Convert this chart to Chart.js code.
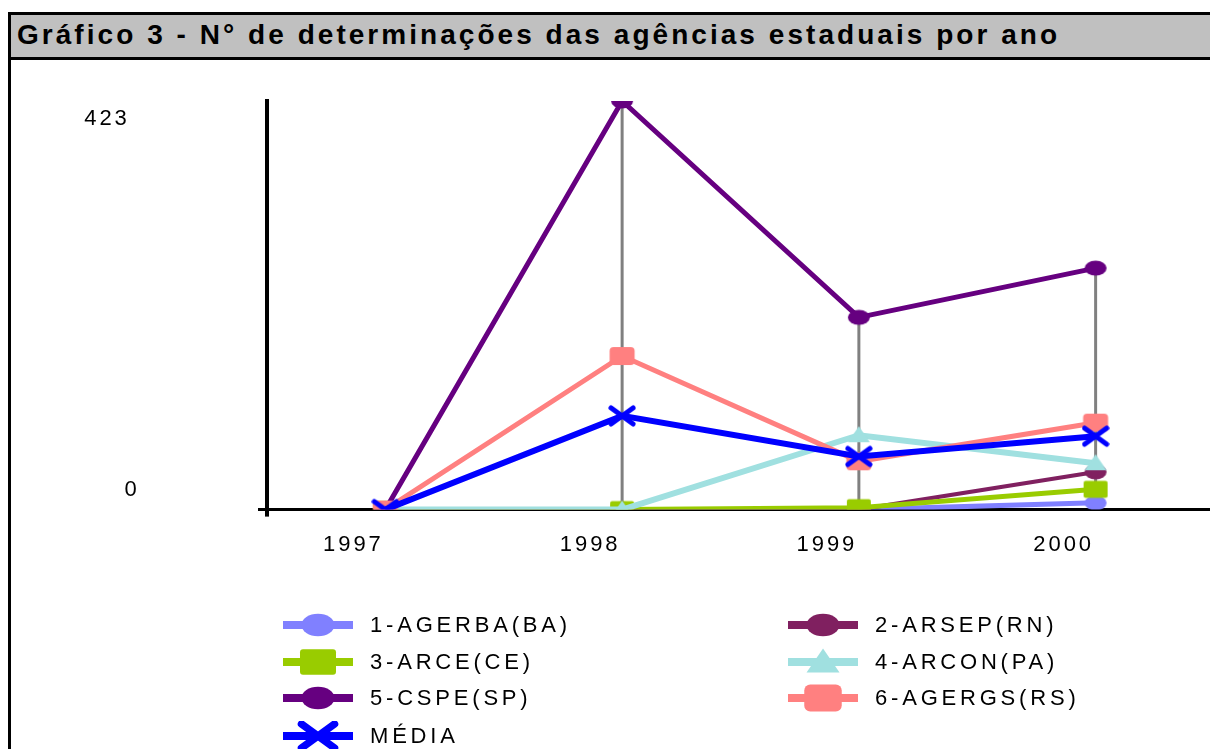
<!DOCTYPE html>
<html lang="pt">
<head>
<meta charset="UTF-8">
<title>Gráfico 3 - N° de determinações das agências estaduais por ano</title>
<style>
    body { margin: 0; width: 1210px; height: 749px; overflow: hidden; background: #fff; position: relative; font-family: "Liberation Sans", Arial, sans-serif; color: #000; }
    .titlebar { position: absolute; left: 8px; top: 12px; width: 1210px; height: 42px; background: #c0c0c0; border: 3px solid #000; overflow: hidden; }
    .titlebar h1 { margin: 0; padding-left: 6px; font-size: 28px; font-weight: bold; letter-spacing: 3px; line-height: 40px; white-space: nowrap; display: inline-block; }
    .leftline { position: absolute; left: 8px; top: 58px; width: 3px; height: 700px; background: #000; }
    #box { position: absolute; left: 0; top: 0; width: 1230px; height: 749px; }
    .legend-item { position: absolute; display: flex; align-items: center; height: 30px; font-size: 22px; letter-spacing: 3.8px; white-space: nowrap; }
    .legend-item canvas { margin-right: 17px; }
</style>
</head>
<body>
    <div class="titlebar"><h1 id="title">Gráfico 3 - N° de determinações das agências estaduais por ano</h1></div>
    <div class="leftline"></div>
    <div id="box"><canvas id="chart"></canvas></div>
    <div id="legend"></div>

    <script src="https://cdn.jsdelivr.net/npm/chart.js"></script>
    <script>
        const years = ['1997', '1998', '1999', '2000'];
        const seriesNames = ['1-AGERBA(BA)', '2-ARSEP(RN)', '3-ARCE(CE)', '4-ARCON(PA)', '5-CSPE(SP)', '6-AGERGS(RS)', 'MÉDIA'];
        const agerba = [0, 0, 0, 7];
        const arsep = [0, 0, 0, 39];
        const arce = [0, 0, 2, 21];
        const arcon = [0, 0, 77, 48];
        const cspe = [0, 423, 199, 250];
        const agergs = [0, 159, 50, 90];
        const media = [0, 97, 55, 76];
        const yTicks = [0, 423];

        const seriesValues = [agerba, arsep, arce, arcon, cspe, agergs, media];
        const colors = ['#8080ff', '#802060', '#99cc00', '#a0e0e0', '#660080', '#ff8080', '#0000ff'];
        const shapes = ['ellipse', 'ellipse', 'square', 'triangle', 'ellipse', 'rounded', 'cross'];
        const widths = [5, 4, 5, 6, 5, 5, 6];

        // stretch the title's letter spacing to the width it has in the sheet
        const title = document.getElementById('title');
        title.style.letterSpacing = '0px';
        const natural = title.getBoundingClientRect().width - 6;
        title.style.letterSpacing = ((1040 - natural) / 61).toFixed(2) + 'px';

        // marker pictures, used by the chart points and the legend
        function makeMarker(shape, color, s) {
            const c = document.createElement('canvas');
            c.width = Math.round(28 * s);
            c.height = Math.round(24 * s);
            const ctx = c.getContext('2d');
            const cx = c.width / 2, cy = c.height / 2;
            ctx.fillStyle = color;
            ctx.strokeStyle = color;
            if (shape === 'ellipse') {
                ctx.beginPath();
                ctx.ellipse(cx, cy, 11 * s, 7.5 * s, 0, 0, Math.PI * 2);
                ctx.fill();
            } else if (shape === 'square') {
                ctx.beginPath();
                ctx.roundRect(cx - 12 * s, cy - 8.5 * s, 24 * s, 17 * s, 2 * s);
                ctx.fill();
            } else if (shape === 'rounded') {
                ctx.beginPath();
                ctx.roundRect(cx - 12.5 * s, cy - 9 * s, 25 * s, 18 * s, 4 * s);
                ctx.fill();
            } else if (shape === 'triangle') {
                ctx.beginPath();
                ctx.moveTo(cx, cy - 9 * s);
                ctx.lineTo(cx + 11 * s, cy + 7 * s);
                ctx.lineTo(cx - 11 * s, cy + 7 * s);
                ctx.closePath();
                ctx.fill();
            } else {
                ctx.lineWidth = 5 * s;
                ctx.lineCap = 'round';
                ctx.beginPath();
                ctx.moveTo(cx - 11 * s, cy - 8 * s);
                ctx.lineTo(cx + 11 * s, cy + 8 * s);
                ctx.moveTo(cx + 11 * s, cy - 8 * s);
                ctx.lineTo(cx - 11 * s, cy + 8 * s);
                ctx.stroke();
            }
            return c;
        }

        const datasets = seriesNames.map((name, i) => ({
            label: name,
            data: seriesValues[i],
            borderColor: colors[i],
            backgroundColor: colors[i],
            borderWidth: widths[i],
            pointStyle: makeMarker(shapes[i], colors[i], 1),
            pointRadius: 10,
            tension: 0,
            order: seriesNames.length - 1 - i
        }));

        // grey high-low lines per year, over the six agencies
        const dropLines = {
            id: 'dropLines',
            beforeDatasetsDraw(chart) {
                const ctx = chart.ctx, x = chart.scales.x, y = chart.scales.y;
                ctx.save();
                ctx.strokeStyle = '#808080';
                ctx.lineWidth = 3;
                years.forEach((yr, j) => {
                    const vals = seriesValues.slice(0, 6).map(s => s[j]);
                    const hi = Math.max(...vals), lo = Math.min(...vals);
                    if (hi === lo) return;
                    const px = x.getPixelForValue(j);
                    ctx.beginPath();
                    ctx.moveTo(px, y.getPixelForValue(hi));
                    ctx.lineTo(px, y.getPixelForValue(lo));
                    ctx.stroke();
                });
                ctx.restore();
            }
        };

        // y labels sit off their ticks like in the original sheet
        const yLabelShift = [[132, -20], [107, 18]];
        const yLabels = {
            id: 'yLabels',
            afterDraw(chart) {
                const ctx = chart.ctx, y = chart.scales.y;
                ctx.save();
                ctx.font = '22px "Liberation Sans", Arial, sans-serif';
                ctx.letterSpacing = '3px';
                ctx.fillStyle = '#000';
                ctx.textAlign = 'center';
                ctx.textBaseline = 'middle';
                yTicks.forEach((v, i) => {
                    ctx.fillText(String(v), yLabelShift[i][0], y.getPixelForValue(v) + yLabelShift[i][1]);
                });
                // the value axis runs a little past the category axis
                ctx.fillStyle = '#000';
                ctx.fillRect(chart.chartArea.left - 2, y.getPixelForValue(0), 4, 7);
                ctx.restore();
            }
        };

        const spacing = {
            id: 'spacing',
            beforeInit(chart) { chart.ctx.letterSpacing = '3px'; },
            beforeDraw(chart) { chart.ctx.letterSpacing = '3px'; }
        };

        new Chart(document.getElementById('chart').getContext('2d'), {
            type: 'line',
            data: { labels: years, datasets: datasets },
            options: {
                responsive: true,
                maintainAspectRatio: false,
                animation: false,
                layout: { padding: { left: 258, top: 101, right: 7, bottom: 169 } },
                plugins: { legend: { display: false }, tooltip: { enabled: false } },
                scales: {
                    x: {
                        offset: true,
                        grid: { display: true, drawOnChartArea: false, drawTicks: false },
                        border: { color: '#000', width: 3 },
                        ticks: { color: '#000', padding: 22, labelOffset: -32, font: { size: 22, family: '"Liberation Sans", Arial, sans-serif' } }
                    },
                    y: {
                        min: 0,
                        max: 423,
                        afterBuildTicks(axis) { axis.ticks = yTicks.map(v => ({ value: v })); },
                        grid: {
                            drawOnChartArea: false,
                            tickLength: 9,
                            tickWidth: 3,
                            color: ctx => (ctx.tick && ctx.tick.value === 0 ? '#000' : 'rgba(0,0,0,0)')
                        },
                        border: { color: '#000', width: 4 },
                        ticks: { display: false }
                    }
                }
            },
            plugins: [spacing, dropLines, yLabels]
        });

        // legend in two columns
        const legendCols = [283, 788];
        const legendRows = [610, 647, 683, 721];
        const legendBox = document.getElementById('legend');
        seriesNames.forEach((name, i) => {
            const item = document.createElement('div');
            item.className = 'legend-item';
            item.style.left = legendCols[i % 2] + 'px';
            item.style.top = legendRows[Math.floor(i / 2)] + 'px';
            const icon = document.createElement('canvas');
            icon.width = 70;
            icon.height = 30;
            const ictx = icon.getContext('2d');
            ictx.fillStyle = colors[i];
            ictx.fillRect(0, 11, 70, 8);
            const m = makeMarker(shapes[i], colors[i], 1.5);
            ictx.drawImage(m, 35 - m.width / 2, 15 - m.height / 2);
            item.appendChild(icon);
            item.appendChild(document.createTextNode(name));
            legendBox.appendChild(item);
        });
    </script>
</body>
</html>
